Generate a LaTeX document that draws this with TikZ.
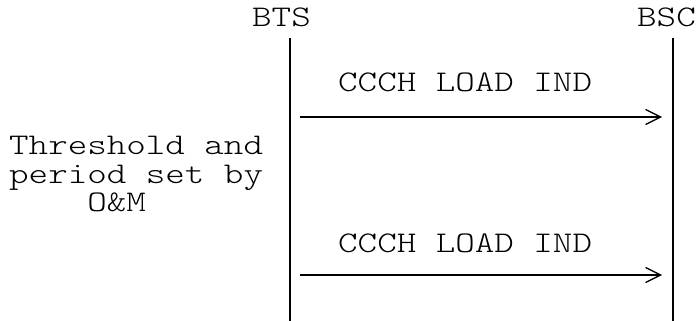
\documentclass[tikz,border=0pt]{standalone}
\usepackage{fontspec}
\setmonofont{Latin Modern Mono Light}[FakeStretch=1.24]
\usetikzlibrary{arrows.meta}
\begin{document}
\begin{tikzpicture}[x=1pt,y=-1pt,
  lbl/.style={font=\ttfamily\fontsize{30}{28.5}\selectfont, inner sep=0pt, anchor=base west},
  life/.style={line width=2pt},
  msg/.style={line width=2pt, -{Straight Barb[length=15pt,width=15pt,line width=1.3pt]}}]
\useasboundingbox[fill=white] (0,0) rectangle (697,321);
% entities
\node[lbl] (bts) at (252,27) {BTS};
\node[lbl] (bsc) at (637,27) {BSC};
\coordinate (btsTop) at (290,38);
\coordinate (btsBot) at (290,321);
\coordinate (bscTop) at (673,38);
\coordinate (bscBot) at (673,321);
\draw[life] (btsTop) -- (btsBot);
\draw[life] (bscTop) -- (bscBot);
% messages
\coordinate (m1s) at (300,117);
\coordinate (m1e) at (662,117);
\draw[msg] (m1s) -- (m1e);
\node[lbl] (m1) at (338,92) {CCCH LOAD IND};
\coordinate (m2s) at (300,275);
\coordinate (m2e) at (662,275);
\draw[msg] (m2s) -- (m2e);
\node[lbl] (m2) at (338,252) {CCCH LOAD IND};
% note
\node[lbl, anchor=north west, align=left] (note) at (9,136) {Threshold and\\period set by\\\ \ \ \ O\&M};
\end{tikzpicture}
\end{document}
